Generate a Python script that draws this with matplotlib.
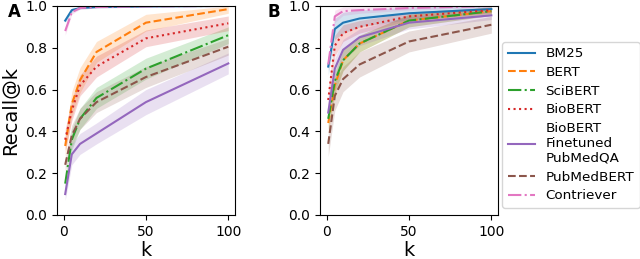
import matplotlib

matplotlib.use("Agg")
import matplotlib.pyplot as plt
import numpy as np

# --- data -----------------------------------------------------------------
k = [1, 5, 10, 20, 50, 100]
models = ["BM25", "BERT", "SciBERT", "BioBERT",
          "BioBERT\nFinetuned\nPubMedQA", "PubMedBERT", "Contriever"]
colors = ["tab:blue", "tab:orange", "tab:green", "tab:red",
          "tab:purple", "tab:brown", "tab:pink"]
styles = ["-", "--", "-.", ":", "-", "--", "-."]

# panel A: mean recall@k and spread
recall_a = [
    [0.93, 0.98, 0.99, 0.995, 0.998, 1.0],
    [0.33, 0.53, 0.645, 0.78, 0.92, 0.985],
    [0.15, 0.36, 0.46, 0.56, 0.70, 0.86],
    [0.36, 0.50, 0.62, 0.71, 0.845, 0.917],
    [0.10, 0.29, 0.34, 0.39, 0.54, 0.725],
    [0.24, 0.38, 0.46, 0.54, 0.66, 0.805],
    [0.88, 0.97, 0.99, 0.995, 0.998, 1.0],
]
spread_a = [
    [0.01, 0.01, 0.005, 0.005, 0.003, 0.002],
    [0.05, 0.06, 0.06, 0.05, 0.04, 0.02],
    [0.03, 0.05, 0.05, 0.05, 0.05, 0.04],
    [0.05, 0.05, 0.05, 0.05, 0.04, 0.035],
    [0.03, 0.05, 0.05, 0.05, 0.06, 0.05],
    [0.03, 0.05, 0.05, 0.05, 0.05, 0.04],
    [0.02, 0.01, 0.005, 0.005, 0.003, 0.002],
]

# panel B
recall_b = [
    [0.71, 0.89, 0.92, 0.94, 0.965, 0.985],
    [0.44, 0.62, 0.74, 0.82, 0.93, 0.975],
    [0.46, 0.64, 0.74, 0.82, 0.93, 0.975],
    [0.55, 0.81, 0.87, 0.90, 0.95, 0.98],
    [0.49, 0.70, 0.79, 0.85, 0.92, 0.955],
    [0.34, 0.57, 0.65, 0.72, 0.83, 0.91],
    [0.72, 0.95, 0.975, 0.98, 0.99, 1.0],
]
spread_b = [
    [0.04, 0.05, 0.05, 0.04, 0.03, 0.015],
    [0.05, 0.05, 0.05, 0.04, 0.03, 0.02],
    [0.05, 0.05, 0.05, 0.04, 0.03, 0.02],
    [0.05, 0.05, 0.04, 0.03, 0.02, 0.015],
    [0.05, 0.05, 0.05, 0.04, 0.03, 0.02],
    [0.06, 0.07, 0.06, 0.06, 0.05, 0.04],
    [0.03, 0.03, 0.02, 0.015, 0.01, 0.005],
]

# --- figure ------------------------------------------------------------------
fig = plt.figure(figsize=(6.4, 2.59), dpi=100)
ax_a = fig.add_axes([0.089, 0.170, 0.278, 0.807])
ax_b = fig.add_axes([0.500, 0.170, 0.278, 0.807])


def draw(ax, recall, spread):
    x = np.array(k)
    for i, name in enumerate(models):
        m = np.array(recall[i])
        s = np.array(spread[i])
        ax.fill_between(x, m - s, np.minimum(m + s, 1.0),
                        color=colors[i], alpha=0.2, lw=0)
        ax.plot(x, m, color=colors[i], ls=styles[i], lw=1.5, label=name)
    ax.set_ylim(0, 1.0)
    ax.set_xlim(-4, 104)
    ax.set_xticks([0, 50, 100])
    ax.set_yticks(np.arange(0, 1.01, 0.2))
    ax.tick_params(labelsize=10)
    ax.set_xlabel("k", fontsize=14, labelpad=1.5)


draw(ax_a, recall_a, spread_a)
draw(ax_b, recall_b, spread_b)
ax_a.set_ylabel("Recall@k", fontsize=14)

fig.text(0.012, 0.955, "A", fontsize=12, fontweight="bold", va="center")
fig.text(0.418, 0.955, "B", fontsize=12, fontweight="bold", va="center")

handles, labels = ax_a.get_legend_handles_labels()
fig.legend(handles, labels, loc="upper left", bbox_to_anchor=(0.785, 0.838),
           fontsize=9.7, handlelength=2.0, labelspacing=0.42,
           borderaxespad=0.0)

fig.savefig("out.png", dpi=100)
